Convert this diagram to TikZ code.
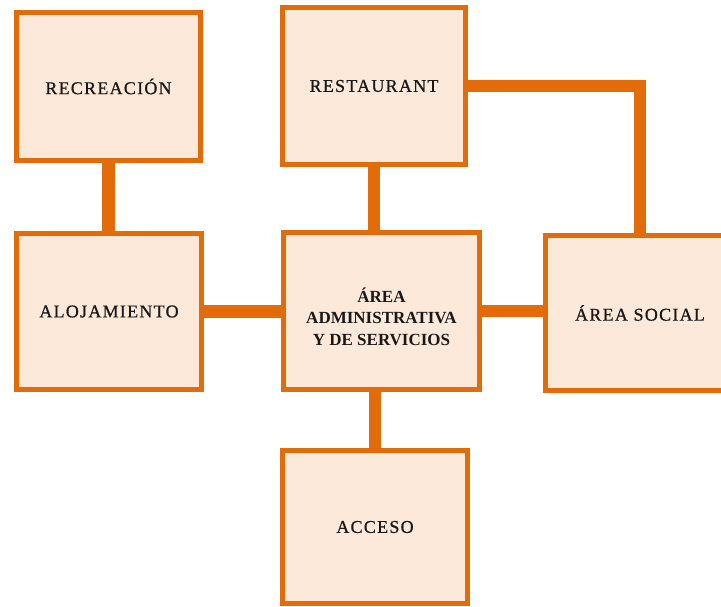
\documentclass[tikz,border=0pt]{standalone}
\usepackage{fontspec}
\setmainfont{Liberation Serif}
\newfontfamily\lblfont{Liberation Serif}[LetterSpace=7,FakeBold=0.8]
\definecolor{boxorange}{HTML}{E36C0A}
\definecolor{boxfill}{HTML}{FDE9D9}
\tikzset{
  area/.style={draw=boxorange, fill=boxfill, line width=5.5pt, rectangle, inner sep=0pt,
    font=\lblfont\fontsize{18}{21.6}\selectfont, text=black!90},
  conn/.style={draw=boxorange, line width=12.5pt}
}
\begin{document}
\begin{tikzpicture}[x=1pt,y=-1pt]
\useasboundingbox (0,0) rectangle (721,606);
\clip (0,0) rectangle (721,606);
\node[area, minimum width=184pt, minimum height=148pt] (rec) at (108.5,86.5) {RECREACIÓN};
\node[area, minimum width=183pt, minimum height=157pt] (rest) at (374,86) {RESTAURANT};
\node[area, minimum width=185pt, minimum height=156pt] (aloj) at (109,311.5) {ALOJAMIENTO};
\node[area, minimum width=196pt, minimum height=157pt, align=center,
  font=\bfseries\fontsize{17}{21.5}\selectfont] (admin) at (381.5,311)
  {\rule{0pt}{26pt}ÁREA\\ADMINISTRATIVA\\Y DE SERVICIOS};
\node[area, minimum width=189pt, minimum height=155pt] (social) at (640,313) {ÁREA SOCIAL};
\node[area, minimum width=185pt, minimum height=153pt] (acceso) at (375,527) {ACCESO};
\draw[conn] (rec.south) -- (aloj.north -| rec.south);
\draw[conn] (aloj.east) -- (admin.west |- aloj.east);
\draw[conn] (admin.east) -- (social.west |- admin.east);
\draw[conn] (rest.south) -- (admin.north -| rest.south);
\draw[conn] (acceso.north) -- (admin.south -| acceso.north);
\draw[conn] (rest.east) -| (social.north);
\end{tikzpicture}
\end{document}
